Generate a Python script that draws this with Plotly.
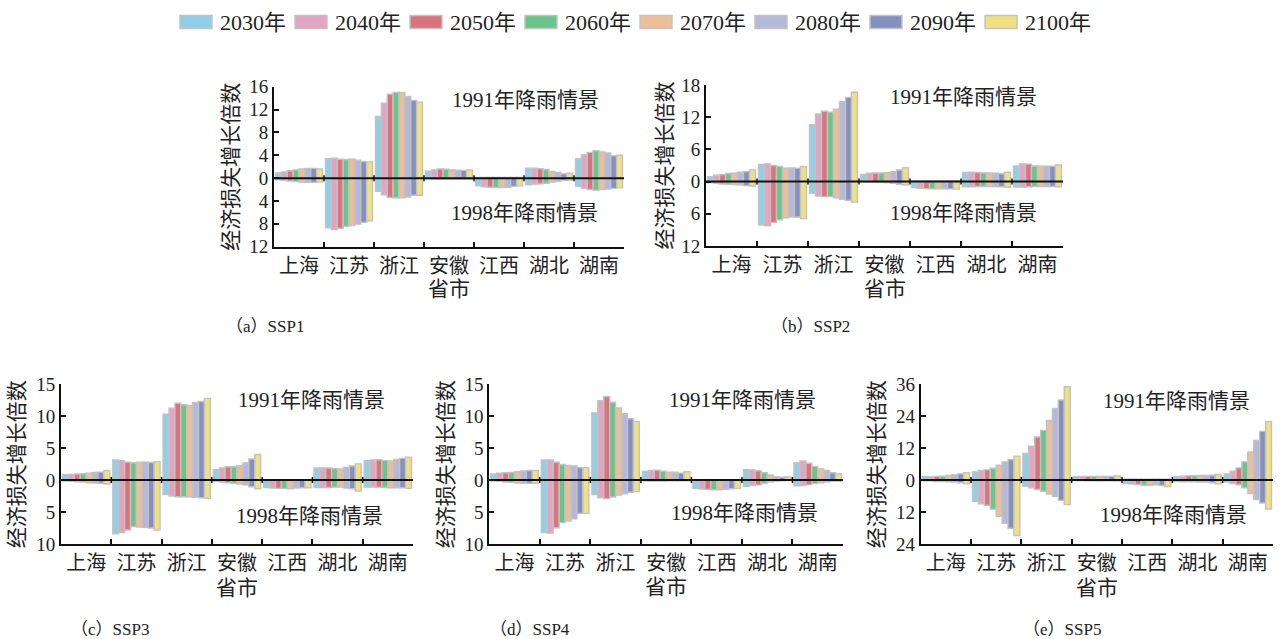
import plotly.graph_objects as go

W, H = 1288, 639

provinces = ['上海', '江苏', '浙江', '安徽', '江西', '湖北', '湖南']
years = ['2030年', '2040年', '2050年', '2060年', '2070年', '2080年', '2090年', '2100年']
colors = ['#8fd0e6', '#e2a4bf', '#d9747f', '#6dc48b', '#ecbd99', '#b5b9d9', '#8590c1', '#eee083']

# rows = provinces, columns = years (2030..2100); 1991 rainfall scenario (upward)
ssp1_up = [
    [0.9, 1.1, 1.3, 1.45, 1.6, 1.7, 1.7, 1.6],
    [3.4, 3.5, 3.3, 3.25, 3.3, 3.15, 2.9, 2.85],
    [10.8, 13.1, 14.7, 15.0, 15.0, 14.3, 13.6, 13.3],
    [1.2, 1.45, 1.6, 1.55, 1.45, 1.4, 1.35, 1.45],
    [0.1, 0.1, 0.1, 0.1, 0.1, 0.1, 0.1, 0.1],
    [1.75, 1.75, 1.65, 1.5, 1.15, 1.0, 0.75, 0.85],
    [3.4, 4.1, 4.5, 4.8, 4.6, 4.4, 3.9, 4.0],
]
# 1998 rainfall scenario (downward)
ssp1_down = [
    [-0.3, -0.4, -0.5, -0.6, -0.7, -0.75, -0.75, -0.7],
    [-8.7, -9.0, -8.8, -8.45, -8.3, -8.05, -7.75, -7.45],
    [-2.3, -2.9, -3.4, -3.45, -3.45, -3.3, -3.0, -3.0],
    [-0.15, -0.2, -0.2, -0.2, -0.2, -0.2, -0.2, -0.2],
    [-1.35, -1.5, -1.6, -1.65, -1.65, -1.6, -1.45, -1.35],
    [-1.15, -1.05, -1.0, -0.9, -0.7, -0.6, -0.4, -0.4],
    [-1.4, -1.8, -2.0, -2.1, -2.0, -1.9, -1.8, -1.7],
]
ssp2_up = [
    [0.93, 1.2, 1.3, 1.5, 1.55, 1.75, 1.85, 2.15],
    [3.2, 3.3, 3.0, 2.8, 2.5, 2.55, 2.5, 2.8],
    [10.6, 12.6, 13.1, 12.95, 13.5, 14.9, 15.7, 16.65],
    [1.35, 1.55, 1.6, 1.6, 1.65, 1.85, 2.15, 2.6],
    [0.1, 0.1, 0.1, 0.1, 0.1, 0.1, 0.1, 0.1],
    [1.7, 1.75, 1.7, 1.6, 1.6, 1.55, 1.45, 1.75],
    [2.9, 3.3, 3.25, 2.9, 2.85, 2.85, 2.85, 3.1],
]
ssp2_down = [
    [-0.2, -0.3, -0.45, -0.5, -0.55, -0.6, -0.75, -0.85],
    [-8.1, -8.25, -7.6, -7.1, -6.75, -6.6, -6.6, -6.9],
    [-2.2, -2.7, -2.8, -2.8, -3.0, -3.3, -3.5, -3.8],
    [-0.05, -0.1, -0.15, -0.15, -0.2, -0.3, -0.5, -0.6],
    [-1.1, -1.25, -1.3, -1.35, -1.35, -1.35, -1.35, -1.4],
    [-0.95, -0.95, -0.9, -0.9, -0.9, -0.9, -0.95, -1.05],
    [-1.0, -1.0, -0.95, -0.9, -0.9, -0.9, -0.9, -0.95],
]
ssp3_up = [
    [0.83, 0.9, 0.95, 1.0, 1.1, 1.2, 1.25, 1.5],
    [3.15, 3.05, 2.8, 2.7, 2.8, 2.8, 2.75, 2.9],
    [10.3, 11.25, 12.05, 11.8, 11.7, 12.15, 12.3, 12.8],
    [1.65, 1.9, 2.1, 2.1, 2.25, 2.7, 3.3, 4.0],
    [0.05, 0.05, 0.05, 0.05, 0.05, 0.05, 0.05, 0.05],
    [1.9, 1.9, 1.9, 1.8, 1.75, 2.0, 2.2, 2.55],
    [3.05, 3.15, 3.2, 3.05, 3.0, 3.25, 3.4, 3.6],
]
ssp3_down = [
    [-0.15, -0.2, -0.25, -0.3, -0.4, -0.45, -0.5, -0.6],
    [-8.4, -8.2, -7.8, -7.25, -7.35, -7.4, -7.5, -7.8],
    [-2.25, -2.5, -2.6, -2.6, -2.6, -2.7, -2.75, -2.85],
    [-0.2, -0.3, -0.4, -0.5, -0.6, -0.75, -1.05, -1.35],
    [-1.15, -1.25, -1.3, -1.3, -1.35, -1.25, -1.2, -1.2],
    [-1.15, -1.15, -1.15, -1.1, -1.1, -1.25, -1.35, -1.7],
    [-1.1, -1.1, -1.1, -1.15, -1.2, -1.2, -1.2, -1.3],
]
ssp4_up = [
    [0.95, 1.1, 1.15, 1.2, 1.3, 1.45, 1.5, 1.5],
    [3.15, 3.15, 2.8, 2.45, 2.3, 2.2, 1.95, 1.95],
    [10.5, 12.45, 13.1, 12.2, 11.3, 10.4, 9.6, 9.15],
    [1.35, 1.5, 1.55, 1.4, 1.25, 1.25, 1.1, 1.3],
    [0.05, 0.05, 0.05, 0.05, 0.05, 0.05, 0.05, 0.05],
    [1.65, 1.6, 1.45, 1.15, 0.8, 0.55, 0.45, 0.5],
    [2.7, 3.0, 2.65, 2.15, 1.8, 1.5, 1.15, 1.0],
]
ssp4_down = [
    [-0.15, -0.2, -0.3, -0.35, -0.45, -0.5, -0.5, -0.5],
    [-8.2, -8.3, -7.45, -6.65, -6.4, -6.05, -5.2, -5.2],
    [-2.25, -2.75, -2.9, -2.65, -2.35, -2.15, -1.9, -1.8],
    [-0.1, -0.15, -0.15, -0.15, -0.1, -0.1, -0.1, -0.1],
    [-1.3, -1.4, -1.45, -1.5, -1.5, -1.45, -1.35, -1.3],
    [-0.95, -0.85, -0.75, -0.5, -0.3, -0.15, -0.1, -0.05],
    [-0.9, -0.85, -0.7, -0.55, -0.4, -0.3, -0.2, -0.2],
]
ssp5_up = [
    [1.25, 1.25, 1.4, 1.5, 1.75, 2.0, 2.35, 2.75],
    [3.1, 3.6, 3.85, 4.5, 5.6, 6.85, 7.7, 9.0],
    [10.0, 12.7, 16.2, 18.7, 22.4, 26.9, 30.1, 35.1],
    [1.25, 1.4, 1.4, 1.4, 1.4, 1.4, 1.4, 1.6],
    [0.3, 0.3, 0.3, 0.3, 0.3, 0.3, 0.3, 0.3],
    [1.25, 1.5, 1.6, 1.6, 1.75, 1.75, 1.85, 2.1],
    [2.35, 3.35, 4.6, 6.85, 10.6, 14.95, 18.3, 22.0],
]
ssp5_down = [
    [-0.25, -0.3, -0.5, -0.5, -0.6, -0.75, -1.0, -1.4],
    [-8.0, -8.85, -9.5, -10.9, -13.6, -16.2, -18.1, -20.8],
    [-2.3, -2.9, -3.5, -4.2, -5.2, -6.1, -7.6, -9.2],
    [-0.2, -0.2, -0.25, -0.25, -0.3, -0.3, -0.3, -0.35],
    [-1.25, -1.5, -1.65, -1.9, -1.9, -1.75, -2.0, -2.4],
    [-0.5, -0.6, -0.6, -0.6, -0.75, -0.75, -1.0, -1.4],
    [-0.75, -1.25, -1.75, -2.9, -5.05, -7.3, -8.6, -10.9],
]

# y-axis ticks per panel
ticks_a = [-12, -8, -4, 0, 4, 8, 12, 16]
ticks_b = [-12, -6, 0, 6, 12, 18]
ticks_c = [-10, -5, 0, 5, 10, 15]
ticks_d = [-10, -5, 0, 5, 10, 15]
ticks_e = [-24, -12, 0, 12, 24, 36]

captions = ['（a）SSP1', '（b）SSP2', '（c）SSP3', '（d）SSP4', '（e）SSP5']
label_up = '1991年降雨情景'
label_down = '1998年降雨情景'
x_title = '省市'
y_title = '经济损失增长倍数'

FONT = '"Liberation Serif", "Noto Sans CJK SC", serif'
TXT = '#222222'
AXC = '#111111'


def px(x):
    return x / W


def py(y):
    return 1 - y / H


# panel geometry in pixels: (left, right, top, bottom) and text centres
panels = [
    dict(up=ssp1_up, down=ssp1_down, ticks=ticks_a, box=(274, 624, 86.7, 246.7),
         txt_up=(525, 100), txt_down=(524, 213), cap=(265, 326), ytl=231, xtl=289),
    dict(up=ssp2_up, down=ssp2_down, ticks=ticks_b, box=(706, 1063, 85.0, 246.0),
         txt_up=(963, 97), txt_down=(963, 213), cap=(810, 326), ytl=664, xtl=289),
    dict(up=ssp3_up, down=ssp3_down, ticks=ticks_c, box=(61, 413, 384.3, 544.0),
         txt_up=(311, 400), txt_down=(309, 516), cap=(110, 629), ytl=17, xtl=588),
    dict(up=ssp4_up, down=ssp4_down, ticks=ticks_d, box=(489.3, 843, 384.3, 544.0),
         txt_up=(742, 400), txt_down=(744, 513), cap=(530, 629), ytl=446, xtl=587),
    dict(up=ssp5_up, down=ssp5_down, ticks=ticks_e, box=(920.7, 1273, 384.3, 544.0),
         txt_up=(1176, 401), txt_down=(1173, 515), cap=(1062, 629), ytl=877, xtl=588),
]

fig = go.Figure()
layout = dict(
    width=W, height=H, autosize=False,
    margin=dict(l=0, r=0, t=0, b=0, pad=0, autoexpand=False),
    paper_bgcolor='white', plot_bgcolor='white',
    barmode='group', bargap=0.06, bargroupgap=0,
    showlegend=False,
    font=dict(family=FONT, color=TXT),
)
annotations = []
shapes = []


def ann(text, x, y, size, angle=0, xanchor='center'):
    annotations.append(dict(text=text, x=px(x), y=py(y), xref='paper', yref='paper',
                            xanchor=xanchor, yanchor='middle', showarrow=False,
                            textangle=angle, font=dict(size=size, family=FONT, color=TXT)))


for k, p in enumerate(panels):
    n = k + 1
    xa = 'x' if n == 1 else f'x{n}'
    ya = 'y' if n == 1 else f'y{n}'
    for j, yr in enumerate(years):
        for data in (p['up'], p['down']):
            fig.add_trace(go.Bar(
                x=provinces, y=[row[j] for row in data],
                xaxis=xa, yaxis=ya, offsetgroup=str(j), name=yr,
                marker=dict(color=colors[j], line=dict(color='#c2c2c2', width=1.4)),
                showlegend=False,
            ))
    l, r, t, b = p['box']
    ymin, ymax = p['ticks'][0], p['ticks'][-1]
    layout[f'xaxis{n}'] = dict(
        domain=[px(l), px(r)], anchor=ya, type='category', categoryarray=provinces,
        categoryorder='array', range=[-0.5, 6.5], automargin=False,
        showline=True, linecolor=AXC, linewidth=2, mirror=False,
        ticks='inside', tickson='boundaries', ticklen=5, tickwidth=1.5, tickcolor=AXC,
        showgrid=False, zeroline=False,
        tickfont=dict(size=20, family=FONT, color=TXT),
    )
    layout[f'yaxis{n}'] = dict(
        domain=[py(b), py(t)], anchor=xa, range=[ymin, ymax], automargin=False,
        tickmode='array', tickvals=p['ticks'], ticktext=[str(abs(v)) for v in p['ticks']],
        showline=True, linecolor=AXC, linewidth=2,
        ticks='inside', ticklen=5, tickwidth=1.5, tickcolor=AXC,
        showgrid=False, zeroline=False,
        tickfont=dict(size=19, family=FONT, color=TXT),
    )
    # zero line separating the two rainfall scenarios
    xd = 'x domain' if n == 1 else f'x{n} domain'
    shapes.append(dict(type='line', xref=xd, yref=ya, x0=0, x1=1, y0=0, y1=0,
                       line=dict(color=AXC, width=2), layer='above'))
    # small tick marks on the zero line at the category boundaries
    unit = (ymax - ymin) / (b - t)  # data units per pixel
    for i in range(1, len(provinces)):
        shapes.append(dict(type='line', xref=xd, yref=ya, x0=i / len(provinces),
                           x1=i / len(provinces), y0=-3 * unit, y1=3 * unit,
                           line=dict(color=AXC, width=1.5), layer='above'))
    # axis titles
    ann(y_title, p['ytl'], (t + b) / 2, 21, angle=-90)
    ann(x_title, (l + r) / 2, p['xtl'], 21)
    # scenario labels and caption
    ann(label_up, p['txt_up'][0], p['txt_up'][1], 21)
    ann(label_down, p['txt_down'][0], p['txt_down'][1], 21)
    ann(captions[k], p['cap'][0], p['cap'][1], 17)

# legend drawn at top
for i, yr in enumerate(years):
    x0 = 180 + 115 * i
    shapes.append(dict(type='rect', xref='paper', yref='paper',
                       x0=px(x0), x1=px(x0 + 32), y0=py(28.5), y1=py(15.5),
                       fillcolor=colors[i], line=dict(color='#c2c2c2', width=1.4)))
    ann(yr, x0 + 38, 22, 22, xanchor='left')

layout['xaxis'] = layout.pop('xaxis1')
layout['yaxis'] = layout.pop('yaxis1')
layout['annotations'] = annotations
layout['shapes'] = shapes
fig.update_layout(**layout)
fig.write_html('out.html')
